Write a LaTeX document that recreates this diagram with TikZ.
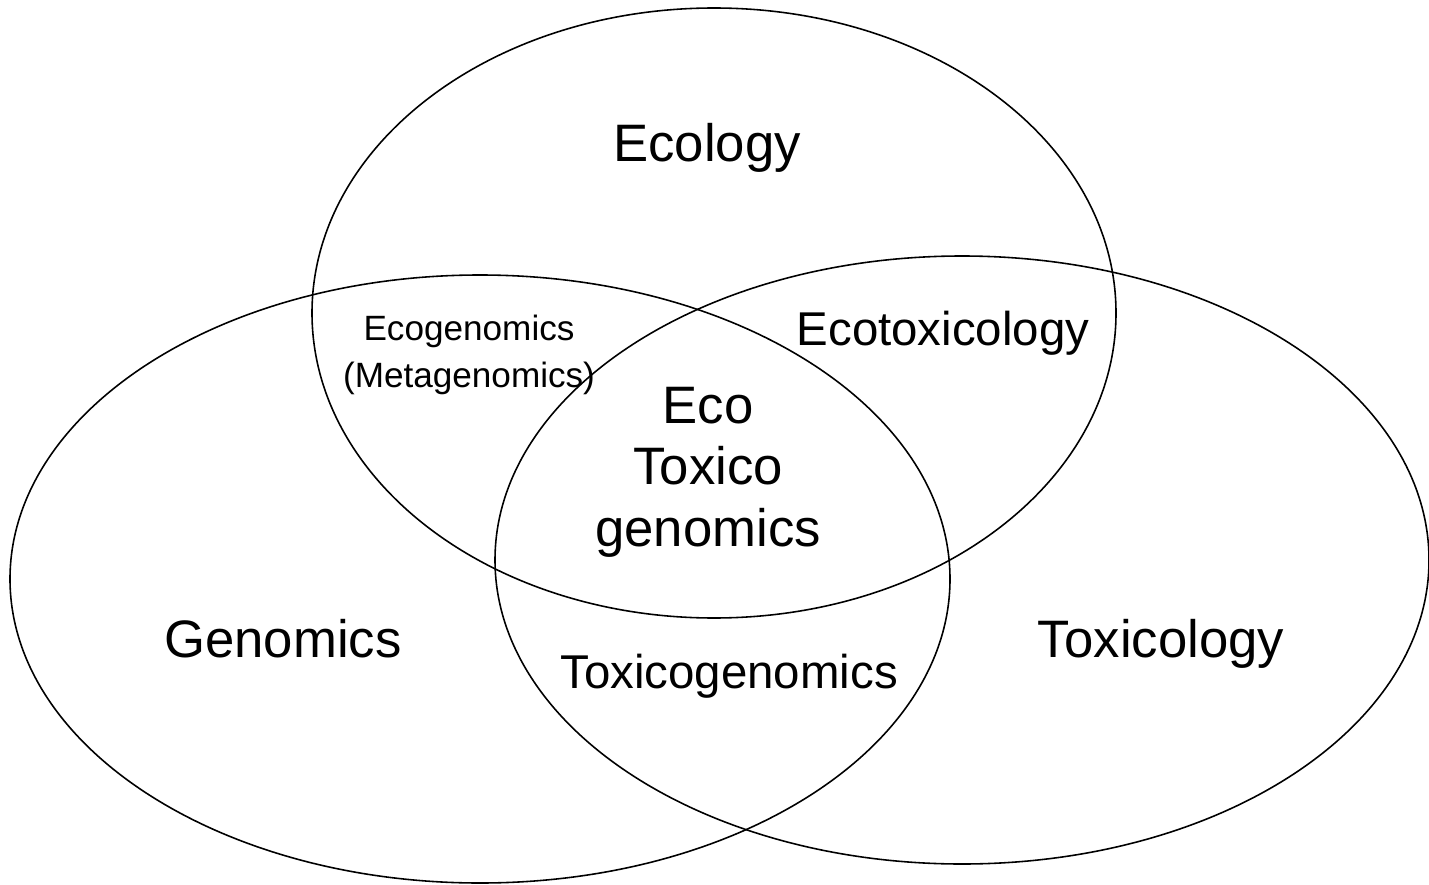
\documentclass[tikz,border=0pt]{standalone}
\usepackage{fontspec}
\setmainfont{Liberation Sans}
\usetikzlibrary{positioning}

\begin{document}
\begin{tikzpicture}[x=0.02cm, y=-0.02cm, line width=0.9pt,
		big/.style={font=\fontsize{30}{35}\selectfont, align=center, inner sep=0pt},
		mid/.style={font=\fontsize{27}{32}\selectfont, inner sep=0pt},
		small/.style={font=\fontsize{20}{26.7}\selectfont, align=center, inner sep=0pt}]
		\useasboundingbox (0,0) rectangle (1429,885);
		% centres of the three sets
		\coordinate (ecol) at (714,313);
		\coordinate (geno) at (480,579);
		\coordinate (toxi) at (962,560);
		\draw (ecol) ellipse [x radius=402, y radius=305];
		\draw (geno) ellipse [x radius=470, y radius=304];
		\draw (toxi) ellipse [x radius=467, y radius=304];
		% labels
		\node (ecology) [big, anchor=base] at (707,162) {Ecology};
		\node (genomics) [big, anchor=base] at (283,657) {Genomics};
		\node (toxicology) [big, anchor=base] at (1161,657) {Toxicology};
		\node (ecotox) [mid, anchor=base] at (943,345) {Ecotoxicology};
		\node (toxgen) [mid, anchor=base] at (729,688) {Toxicogenomics};
		\node (ecogen) [small] at (469,355) {Ecogenomics\\(Metagenomics)};
		\node (ecotoxgen) [big] at (708,472) {Eco\\Toxico\\genomics};
	\end{tikzpicture}
\end{document}
